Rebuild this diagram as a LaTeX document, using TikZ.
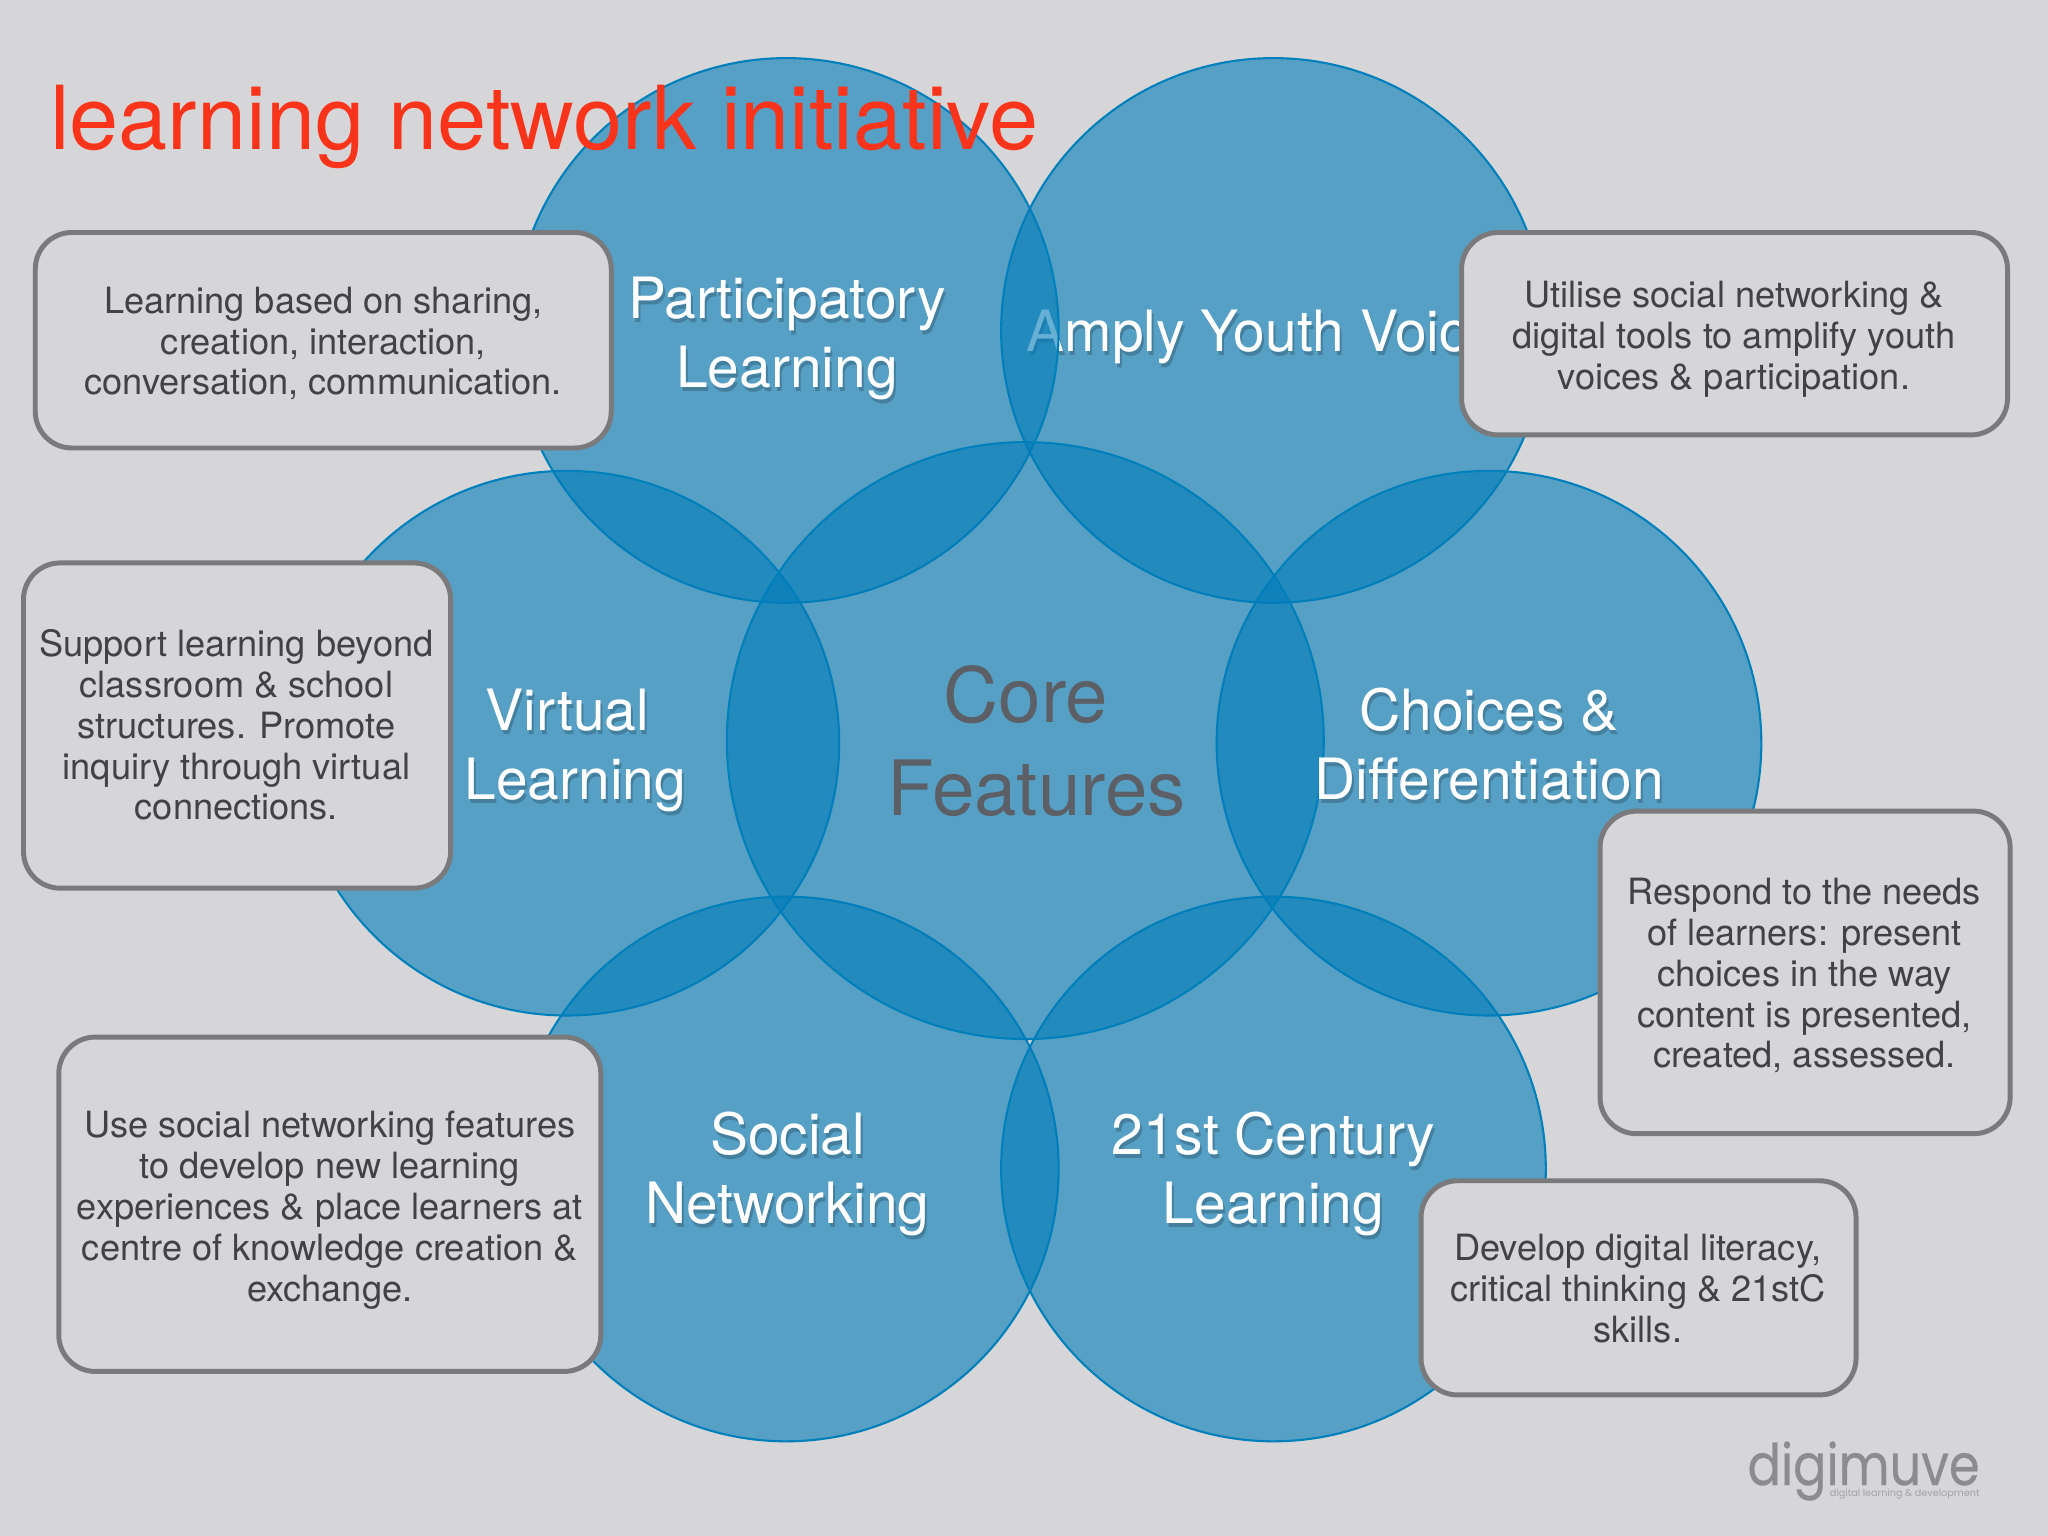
\documentclass[tikz,border=0pt]{standalone}
\usepackage{fontspec}
\setmainfont{TeX Gyre Heros}
\newfontfamily\logofont[FakeStretch=0.86,FakeBold=0.4]{Poppins}
\newfontfamily\logosubfont{Poppins}
\definecolor{pagebg}{RGB}{214,214,216}
\definecolor{petalblue}{RGB}{2,124,186}
\definecolor{petalline}{RGB}{0,128,187}
\definecolor{boxline}{RGB}{122,122,124}
\definecolor{boxtext}{RGB}{66,66,70}
\definecolor{titlered}{RGB}{249,52,27}
\definecolor{coregrey}{RGB}{92,96,102}
\definecolor{logogrey}{RGB}{140,140,142}
\tikzset{
  petal/.style={circle,inner sep=0pt,minimum size=208.5pt,draw=petalline,line width=0.8pt,fill=petalblue,fill opacity=0.6},
  corepetal/.style={petal,minimum size=228.5pt},
  whitelabel/.style={text=white,align=center,font=\fontsize{21.8}{26.5}\selectfont},
  labelshadow/.style={text=black,text opacity=0.2,align=center,font=\fontsize{21.8}{26.5}\selectfont},
  notebox/.style={draw=boxline,line width=1.9pt,fill=pagebg,rounded corners=14pt,inner sep=0pt},
  notetext/.style={inner sep=0pt,text=boxtext,align=center,font=\fontsize{13.85}{15.65}\selectfont}
}
\begin{document}
\begin{tikzpicture}[x=0.5pt,y=-0.5pt]
\useasboundingbox[fill=pagebg] (0,0) rectangle (1568,1176);
% the circle behind everything, its label goes under the next circle
\node[petal] (amply) at (975,253) {};
\node[labelshadow] (amplyshadow) at (968.5,261) {Amply Youth Voice};
\node[whitelabel] (amplytext) at (967,258) {Amply Youth Voice};
\node[petal] (participatory) at (602,253) {};
\node[petal] (virtual) at (434,569) {};
\node[petal] (choices) at (1140,569) {};
\node[petal] (social) at (602,895) {};
\node[petal] (century) at (975,895) {};
\node[corepetal] (core) at (785,567) {};
\foreach \name/\px/\py/\txt in {
  participatory/602.5/259/{Participatory\\Learning},
  virtual/440.5/574.5/{Virtual\hspace*{6pt}\\Learning},
  choices/1140/570/{Choices \&\\Differentiation},
  social/603/899/{Social\\Networking},
  century/975/899/{21st Century\\Learning}}{
  \node[labelshadow] (\name shadow) at (\px+1.5,\py+3) {\txt};
  \node[whitelabel] (\name text) at (\px,\py) {\txt};
}
\node[text=coregrey,align=center,font=\fontsize{29.2}{35.5}\selectfont] (coretext) at (793.5,567.5) {Core\hspace*{8pt}\\Features};
% note boxes
\node[notebox,minimum width=220.5pt,minimum height=82.5pt] (notepart) at (247.5,260.5) {};
\node[notetext] (textpart) at (247.5,263) {Learning based on sharing,\\creation, interaction,\\conversation, communication.};
\node[notebox,minimum width=209pt,minimum height=77.5pt] (noteamply) at (1328,255.5) {};
\node[notetext] (textamply) at (1327.5,260) {Utilise social networking \&\\digital tools to amplify youth\\voices \& participation.};
\node[notebox,minimum width=163.5pt,minimum height=124.5pt] (notevirtual) at (181.5,555.5) {};
\node[notetext] (textvirtual) at (181,555) {Support learning beyond\\classroom \& school\\structures. Promote\\inquiry through virtual\\connections.};
\node[notebox,minimum width=157pt,minimum height=123.5pt] (notechoices) at (1382,744.5) {};
\node[notetext] (textchoices) at (1381.5,747) {Respond to the needs\\of learners: present\\choices in the way\\content is presented,\\created, assessed.};
\node[notebox,minimum width=207.5pt,minimum height=128pt] (notesocial) at (252.5,922) {};
\node[notetext] (textsocial) at (252.5,926.5) {Use social networking features\\to develop new learning\\experiences \& place learners at\\centre of knowledge creation \&\\exchange.};
\node[notebox,minimum width=166.5pt,minimum height=82pt] (notecentury) at (1254.5,986) {};
\node[notetext] (textcentury) at (1254,986.5) {Develop digital literacy,\\critical thinking \& 21stC\\skills.};
% title and logo
\node[text=titlered,anchor=base west,inner sep=0pt,font=\fontsize{33.8}{38}\selectfont] (title) at (38,114.5) {learning network initiative};
\node[text=logogrey,anchor=base east,inner sep=0pt,font=\logofont\fontsize{22}{24}\selectfont] (logo) at (1516,1137) {digimuve};
\node[text=logogrey!70!pagebg,anchor=base east,inner sep=0pt,font=\logosubfont\fontsize{3.7}{4}\selectfont] (logosub) at (1516,1146) {digital learning \& development};
\end{tikzpicture}
\end{document}
